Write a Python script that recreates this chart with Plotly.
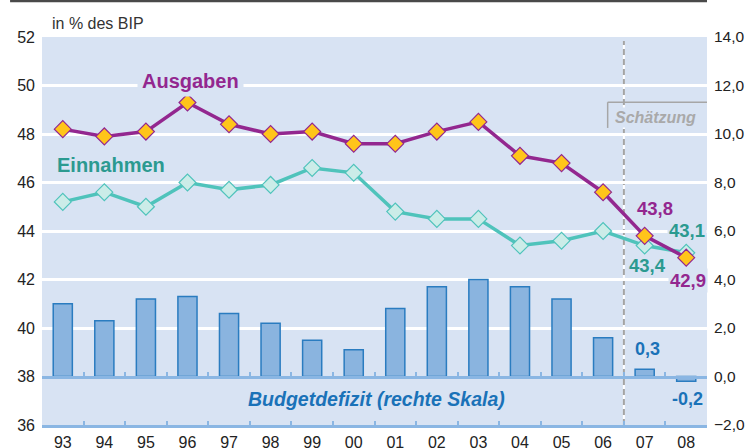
import plotly.graph_objects as go

# Jahre (Achsenbeschriftung)
years = ["93", "94", "95", "96", "97", "98", "99", "00",
         "01", "02", "03", "04", "05", "06", "07", "08"]

# Staatsausgaben und -einnahmen in % des BIP (linke Skala)
ausgaben = [48.2, 47.9, 48.1, 49.3, 48.4, 48.0, 48.1, 47.6,
            47.6, 48.1, 48.5, 47.1, 46.8, 45.6, 43.8, 42.9]
einnahmen = [45.2, 45.6, 45.0, 46.0, 45.7, 45.9, 46.6, 46.4,
             44.8, 44.5, 44.5, 43.4, 43.6, 44.0, 43.4, 43.1]

# Budgetdefizit in % des BIP (rechte Skala)
defizit = [3.0, 2.3, 3.2, 3.3, 2.6, 2.2, 1.5, 1.1,
           2.8, 3.7, 4.0, 3.7, 3.2, 1.6, 0.3, -0.2]

left_ticks = [36, 38, 40, 42, 44, 46, 48, 50, 52]
left_grid = [40, 42, 44, 46, 48, 50]
right_ticks = [-2, 0, 2, 4, 6, 8, 10, 12, 14]

BG = "#d8e3f3"
PURPLE = "#93278f"
GOLD = "#ffc51a"
TEAL_LINE = "#4fc3bb"
TEAL_FILL = "#cbece8"
TEAL_TEXT = "#2b9a90"
BLUE_TEXT = "#1a72b8"
BAR_FILL = "#8ab4df"
BAR_LINE = "#2a7cc0"
AXIS_BLUE = "#8ab6e3"
FONT = "Liberation Sans, Arial, sans-serif"


def de(v):
    return f"{v:.1f}".replace(".", ",")


# Positionen der beiden Schätzjahre auf der Kategorienachse
i07 = years.index("07")
i08 = years.index("08")

fig = go.Figure()

fig.add_trace(go.Bar(
    x=years, y=defizit, xaxis="x2", yaxis="y2", width=0.46,
    marker=dict(color=BAR_FILL, line=dict(color=BAR_LINE, width=1.5)),
    showlegend=False, hoverinfo="skip",
))

fig.add_trace(go.Scatter(
    x=years, y=einnahmen, mode="lines+markers",
    line=dict(color=TEAL_LINE, width=3.5),
    marker=dict(symbol="diamond", size=13, color=TEAL_FILL,
                line=dict(color=TEAL_LINE, width=1.2)),
    showlegend=False, hoverinfo="skip",
))

fig.add_trace(go.Scatter(
    x=years, y=ausgaben, mode="lines+markers",
    line=dict(color=PURPLE, width=3.5),
    marker=dict(symbol="diamond", size=13, color=GOLD,
                line=dict(color=PURPLE, width=1.2)),
    showlegend=False, hoverinfo="skip",
))

axis_common = dict(
    type="category", categoryorder="array", categoryarray=years,
    range=[-0.5, len(years) - 0.5],
    showline=True, linecolor=AXIS_BLUE, linewidth=2.5,
    ticks="inside", tickson="boundaries", ticklen=4, tickwidth=2,
    tickcolor=AXIS_BLUE, showgrid=False, zeroline=False, fixedrange=True,
    automargin=False,
)

shapes = [
    # Trennlinie Ist / Schätzung
    dict(type="line", xref="x", yref="paper", x0=13.5, x1=13.5, y0=0, y1=0.99,
         line=dict(color="white", width=2), layer="between"),
    dict(type="line", xref="x", yref="paper", x0=13.5, x1=13.5, y0=0, y1=0.99,
         line=dict(color="#a3a3a3", width=2, dash="6px,4px"), layer="between"),
    # Rahmen um "Schätzung"
    dict(type="line", xref="x", yref="y", x0=13.11, x1=15.5, y0=49.31, y1=49.31,
         line=dict(color="#a6a6a6", width=1.5)),
    dict(type="line", xref="x", yref="y", x0=13.11, x1=13.11, y0=49.31, y1=48.25,
         line=dict(color="#a6a6a6", width=1.5)),
    # Linie am oberen Rand
    dict(type="line", xref="paper", yref="paper", x0=-0.048, x1=1,
         y0=1.0928, y1=1.0928, line=dict(color="#4a4a4a", width=2.5)),
]

annotations = [
    dict(text="in % des BIP", xref="paper", yref="paper", x=0.012, y=1.035,
         xanchor="left", yanchor="middle", showarrow=False,
         font=dict(size=16, color="#333333")),
    dict(text="<b>Ausgaben</b>", xref="paper", yref="paper",
         x=(190 - 42) / 665, y=(425 - 80.7) / 388, xanchor="center", yanchor="middle",
         showarrow=False, bgcolor=BG, borderpad=4,
         font=dict(size=20, color=PURPLE)),
    dict(text="<b>Einnahmen</b>", xref="paper", yref="paper",
         x=(111 - 42) / 665, y=(425 - 165) / 388, xanchor="center", yanchor="middle",
         showarrow=False, font=dict(size=20, color=TEAL_TEXT)),
    dict(text="<b><i>Budgetdefizit (rechte Skala)</i></b>", xref="paper", yref="paper",
         x=(376.5 - 42) / 665, y=(425 - 399) / 388, xanchor="center", yanchor="middle",
         showarrow=False, font=dict(size=19.5, color=BLUE_TEXT)),
    dict(text="<b><i>Schätzung</i></b>", xref="paper", yref="paper",
         x=(655.3 - 42) / 665, y=(425 - 117.3) / 388, xanchor="center", yanchor="middle",
         showarrow=False, bgcolor=BG, borderpad=1,
         font=dict(size=16, color="#a9a9a9")),
    # Werte für die Schätzjahre
    dict(text=f"<b>{de(ausgaben[i07])}</b>", x=i07, y=ausgaben[i07],
         xshift=10, yshift=27, showarrow=False, font=dict(size=18.5, color=PURPLE)),
    dict(text=f"<b>{de(ausgaben[i08])}</b>", x=i08, y=ausgaben[i08],
         xshift=2, yshift=-23, showarrow=False, bgcolor=BG,
         font=dict(size=18.5, color=PURPLE)),
    dict(text=f"<b>{de(einnahmen[i07])}</b>", x=i07, y=einnahmen[i07],
         xshift=3, yshift=-20, showarrow=False, font=dict(size=18.5, color=TEAL_TEXT)),
    dict(text=f"<b>{de(einnahmen[i08])}</b>", x=i08, y=einnahmen[i08],
         xshift=1, yshift=22, showarrow=False, bgcolor=BG,
         font=dict(size=18.5, color=TEAL_TEXT)),
    dict(text=f"<b>{de(defizit[i07])}</b>", x=i07, y=defizit[i07],
         xref="x2", yref="y2", xshift=3, yshift=20, showarrow=False,
         font=dict(size=18, color=BLUE_TEXT)),
    dict(text=f"<b>{de(defizit[i08])}</b>", x=i08, y=defizit[i08],
         xref="x2", yref="y2", xshift=1, yshift=-18, showarrow=False,
         font=dict(size=18, color=BLUE_TEXT)),
]

fig.update_layout(
    width=754, height=448,
    margin=dict(l=42, r=47, t=37, b=23, autoexpand=False),
    paper_bgcolor="white", plot_bgcolor=BG,
    font=dict(family=FONT, color="#222222"),
    separators=",.",
    bargap=0.54,
    xaxis=dict(**axis_common, tickfont=dict(size=16, color="#222222"),
               ticklabelstandoff=1),
    xaxis2=dict(**axis_common, overlaying="x", anchor="free", position=0.125,
                showticklabels=False),
    yaxis=dict(range=[36, 52], tickvals=left_ticks, showgrid=False,
               zeroline=False, showline=False, ticks="",
               tickfont=dict(size=16, color="#222222"), ticklabelstandoff=6,
               minor=dict(tickvals=left_grid, showgrid=True, gridcolor="white",
                          gridwidth=3, ticks=""),
               fixedrange=True, automargin=False),
    yaxis2=dict(range=[-2, 14], tickvals=right_ticks, tickformat=".1f",
                overlaying="y", side="right", anchor="x2",
                showgrid=False, zeroline=False, showline=False, ticks="",
                tickfont=dict(size=15.5, color="#222222"), ticklabelstandoff=6,
                fixedrange=True, automargin=False),
    shapes=shapes,
    annotations=annotations,
)

fig.write_html("out.html")
